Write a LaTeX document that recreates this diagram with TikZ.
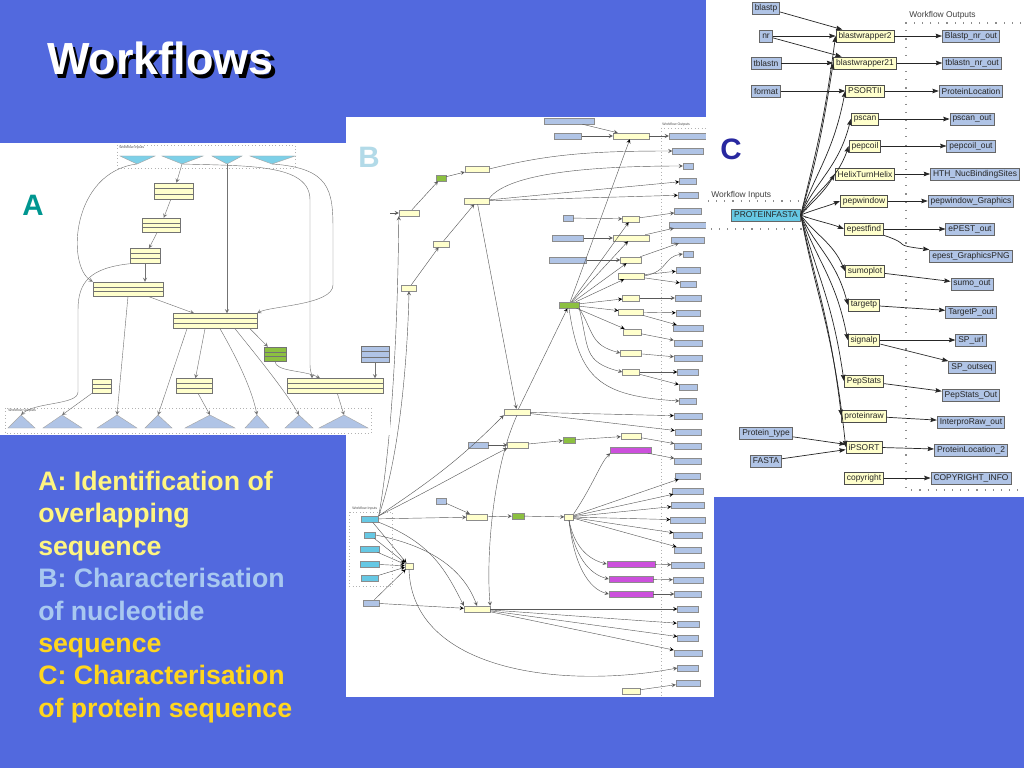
\documentclass[tikz,border=0pt]{standalone}
\usepackage{fontspec}
\setmainfont{Liberation Sans}
\usepackage{tikz}
\usetikzlibrary{calc}
\usetikzlibrary{arrows.meta}
\definecolor{slideblue}{RGB}{82,105,222}
\definecolor{procyellow}{RGB}{255,255,204}
\definecolor{portblue}{RGB}{176,196,230}
\definecolor{inblue}{RGB}{102,200,228}
\definecolor{hubgreen}{RGB}{140,192,64}
\definecolor{webpink}{RGB}{204,80,220}
\definecolor{txtyellow}{RGB}{255,245,128}
\definecolor{txtblue}{RGB}{168,200,240}
\definecolor{txtgold}{RGB}{255,214,30}
\definecolor{labteal}{RGB}{0,150,144}
\definecolor{labsky}{RGB}{178,218,232}
\definecolor{labnavy}{RGB}{40,40,160}
\tikzset{
	titletext/.style={anchor=base west,inner sep=0pt,font=\fontsize{32}{36}\selectfont\bfseries},
	legend/.style={anchor=base west,inner sep=0pt,font=\fontsize{19}{22}\selectfont\bfseries},
	panelletter/.style={anchor=base west,inner sep=0pt,font=\fontsize{21}{24}\selectfont\bfseries},
	tinylabel/.style={anchor=west,inner sep=0pt,font=\fontsize{2.5}{3}\selectfont,text=black!70},
	flowlabel/.style={anchor=west,inner sep=0pt,font=\fontsize{6}{7}\selectfont,text=black!75},
	cgrid/.style={draw=black!45,line width=0.8pt,dash pattern=on 0.8pt off 5pt},
	bgrid/.style={draw=black!30,line width=0.4pt,dash pattern=on 0.4pt off 2pt},
	cproc/.style={rectangle,draw=black!70,fill=procyellow,text=black!85,font=\fontsize{6}{7}\selectfont,minimum height=8.5pt,inner xsep=1.8pt,inner ysep=0pt,line width=0.6pt},
	cport/.style={cproc,fill=portblue,draw=black!60},
	cinput/.style={cport,fill=inblue},
	cedge/.style={-{Stealth[length=4.5pt,width=3.2pt,inset=0.6pt]},draw=black!85,line width=0.5pt},
	bport/.style={rectangle,draw=black!45,fill=portblue,line width=0.3pt,inner sep=0pt,minimum height=6*0.025cm,minimum width=#1*0.025cm},
	bproc/.style={bport=#1,fill=procyellow},
	bhub/.style={bport=#1,fill=hubgreen},
	bweb/.style={bport=#1,fill=webpink},
	binput/.style={bport=#1,fill=inblue},
	bedge/.style={-stealth,draw=black!65,line width=0.3pt},
	asize/.style 2 args={minimum width=#1*0.025cm,minimum height=#2*0.025cm},
	aproc/.style={rectangle,draw=black!55,fill=procyellow,inner sep=0pt,line width=0.3pt,
		path picture={
			\draw[black!55,line width=0.25pt]
			($(path picture bounding box.north west)!0.34!(path picture bounding box.south west)$) --
			($(path picture bounding box.north east)!0.34!(path picture bounding box.south east)$)
			($(path picture bounding box.north west)!0.67!(path picture bounding box.south west)$) --
			($(path picture bounding box.north east)!0.67!(path picture bounding box.south east)$);}},
	aintri/.style={fill=inblue!85,draw=black!35,line width=0.3pt},
	aouttri/.style={fill=portblue,draw=black!35,line width=0.3pt},
	aedge/.style={-stealth,draw=black!55,line width=0.3pt}
}
\begin{document}
\begin{tikzpicture}[x=0.025cm,y=-0.025cm]
	\useasboundingbox (0,0) rectangle (1024,768);
	\fill[slideblue] (0,0) rectangle (1024,768);
	% title with its shadow
	\node[titletext,text=white] (title) at (47,75)
		{\rlap{\kern2.2pt\raisebox{-2.2pt}{\textcolor{black}{Workflows}}}Workflows};
	% legend
	\node[legend,text=txtyellow] (lineone) at (38,490) {A: Identification of};
	\node[legend,text=txtyellow] (linetwo) at (38,522) {overlapping};
	\node[legend,text=txtyellow] (linethree) at (38,555) {sequence};
	\node[legend,text=txtblue] (linefour) at (38,587) {B: Characterisation};
	\node[legend,text=txtblue] (linefive) at (38,620) {of nucleotide};
	\node[legend,text=txtgold] (linesix) at (38,652) {sequence};
	\node[legend,text=txtgold] (lineseven) at (38,684) {C: Characterisation};
	\node[legend,text=txtgold] (lineeight) at (38,717) {of protein sequence};

	% panel B
	\fill[white] (346,117) rectangle (714,697);
	\draw[bgrid] (661,128) -- (712,128);
	\draw[bgrid] (661,128) -- (661,695);
	\draw[bgrid] (349,512) rectangle (392,586);
	\node[tinylabel] (boutlabel) at (662,125) {Workflow Outputs};
	\node[tinylabel] (binlabel) at (352,509) {Workflow Inputs};
	\node[bport=50] (entrez) at (569,121) {};
	\node[bport=27] (estmouse) at (568,136) {};
	\node[bport=10] (est) at (568,218) {};
	\node[bport=31] (entrezmm) at (568,238) {};
	\node[bport=37] (sixframe) at (568,260) {};
	\node[bport=20] (hapsdid) at (478,445) {};
	\node[bport=10] (twothou) at (441,501) {};
	\node[bport=16] (species) at (371,603) {};
	\node[binput=17] (fastasrc) at (370,519) {};
	\node[binput=11] (email) at (370,535) {};
	\node[binput=19] (ncbithi) at (370,549) {};
	\node[binput=19] (descr) at (370,564) {};
	\node[binput=17] (ncbiid) at (370,578) {};
	\node[bproc=36] (bestsimple) at (631,136) {};
	\node[bproc=24] (prometh) at (477,169) {};
	\node[bproc=25] (genefind) at (477,201) {};
	\node[bproc=20] (headergh) at (409,213) {};
	\node[bproc=17] (tramest) at (631,219) {};
	\node[bproc=16] (genscan) at (441,244) {};
	\node[bproc=36] (bnrsimple) at (631,238) {};
	\node[bproc=21] (transeq) at (631,260) {};
	\node[bproc=26] (repmask) at (631,276) {};
	\node[bproc=15] (master) at (409,288) {};
	\node[bproc=17] (blastnnr) at (631,298) {};
	\node[bproc=25] (cpgrep) at (631,312) {};
	\node[bproc=18] (prettyseq) at (632,332) {};
	\node[bproc=21] (restrict) at (631,353) {};
	\node[bproc=17] (sixpack) at (631,372) {};
	\node[bproc=26] (genrun) at (517,412) {};
	\node[bproc=21] (masking) at (518,445) {};
	\node[bproc=20] (signalcon) at (631,436) {};
	\node[bproc=21] (maskingone) at (477,517) {};
	\node[bproc=9] (bsc) at (569,517) {};
	\node[bproc=8] (tool) at (409,566) {};
	\node[bproc=26] (lentiv) at (477,609) {};
	\node[bproc=18] (bcopy) at (631,691) {};
	\node[bhub=10] (tidier) at (441,178) {};
	\node[bhub=20] (fastaund) at (569,305) {};
	\node[bhub=12] (labelone) at (569,440) {};
	\node[bhub=12] (greentwo) at (518,516) {};
	\node[bweb=41] (webzero) at (631,450) {};
	\node[bweb=48] (webone) at (631,564) {};
	\node[bweb=44] (webtwo) at (631,579) {};
	\node[bweb=44] (webthree) at (631,594) {};
	\node[bport=38] (bestout) at (688,136) {};
	\node[bport=31] (promout) at (688,151) {};
	\node[bport=10] (cds) at (688,166) {};
	\node[bport=17] (pepdat) at (688,181) {};
	\node[bport=20] (gsrep) at (688,195) {};
	\node[bport=27] (bestouttwo) at (688,211) {};
	\node[bport=37] (bnrmouse) at (688,225) {};
	\node[bport=33] (kobf) at (688,240) {};
	\node[bport=10] (rtld) at (688,254) {};
	\node[bport=24] (rmmasked) at (688,270) {};
	\node[bport=16] (rmout) at (688,284) {};
	\node[bport=26] (bnrout) at (688,298) {};
	\node[bport=24] (cpgisl) at (688,313) {};
	\node[bport=30] (cpgcomp) at (688,328) {};
	\node[bport=28] (prettytr) at (688,343) {};
	\node[bport=28] (restmap) at (688,358) {};
	\node[bport=21] (prettyorf) at (688,372) {};
	\node[bport=18] (allorf) at (688,387) {};
	\node[bport=17] (laterout) at (688,401) {};
	\node[bport=28] (compgene) at (688,416) {};
	\node[bport=26] (compcds) at (688,432) {};
	\node[bport=27] (sigout) at (688,446) {};
	\node[bport=27] (ttetout) at (688,461) {};
	\node[bport=25] (ttet) at (688,476) {};
	\node[bport=31] (tannot) at (688,491) {};
	\node[bport=33] (ttopo) at (688,505) {};
	\node[bport=35] (tsixt) at (688,520) {};
	\node[bport=29] (tprot) at (688,535) {};
	\node[bport=27] (tmut) at (688,550) {};
	\node[bport=33] (tannout) at (688,565) {};
	\node[bport=30] (tpresout) at (688,580) {};
	\node[bport=27] (tmutout) at (688,594) {};
	\node[bport=21] (tbpdf) at (688,609) {};
	\node[bport=22] (tbblast) at (688,624) {};
	\node[bport=21] (twide) at (688,638) {};
	\node[bport=28] (twpep) at (688,653) {};
	\node[bport=21] (nwres) at (688,668) {};
	\node[bport=24] (copyout) at (688,683) {};
	\coordinate (hfeed) at (390,213);
	\draw[bedge] (entrez) -- (bestsimple);
	\draw[bedge] (estmouse) -- (bestsimple);
	\draw[bedge] (bestsimple) -- (bestout);
	\draw[bedge] (est) -- (tramest);
	\draw[bedge] (entrezmm) -- (bnrsimple);
	\draw[bedge] (sixframe) -- (transeq);
	\draw[bedge] (fastaund) edge (bestsimple) edge (tramest) edge (bnrsimple) edge (transeq)
		edge (repmask) edge (blastnnr) edge (cpgrep) edge (prettyseq);
	\draw[bedge] (fastaund.south east) .. controls +(15,25) and +(-30,-8) .. (restrict.west);
	\draw[bedge] (fastaund.south east) .. controls +(10,40) and +(-40,-10) .. (sixpack.west);
	\draw[bedge] (fastaund.south) .. controls +(10,70) and +(-80,-5) .. (laterout.west);
	\draw[bedge] (tramest) -- (bestouttwo);
	\draw[bedge] (bnrsimple) -- (bnrmouse);
	\draw[bedge] (transeq) -- (kobf);
	\draw[bedge] (repmask.east) .. controls +(25,-5) and +(-20,3) .. (rtld.west);
	\draw[bedge] (repmask) edge (rmmasked) edge (rmout);
	\draw[bedge] (blastnnr) -- (bnrout);
	\draw[bedge] (cpgrep) edge (cpgisl) edge (cpgcomp);
	\draw[bedge] (prettyseq) -- (prettytr);
	\draw[bedge] (restrict) -- (restmap);
	\draw[bedge] (sixpack) edge (prettyorf) edge (allorf);
	\draw[bedge] (hfeed) -- (headergh);
	\draw[bedge] (headergh) -- (tidier);
	\draw[bedge] (tidier) -- (prometh);
	\draw[bedge] (prometh.east) .. controls +(60,-15) and +(-80,0) .. (promout.west);
	\draw[bedge] (master) -- (genscan);
	\draw[bedge] (genscan) -- (genefind);
	\draw[bedge] (genefind.north east) .. controls +(20,-25) and +(-90,0) .. (cds.west);
	\draw[bedge] (genefind) edge (pepdat) edge (gsrep);
	\draw[bedge] (genefind) -- (genrun);
	\draw[bedge] (genrun) edge (fastaund) edge (compgene) edge (compcds);
	\draw[bedge] (hapsdid) -- (masking);
	\draw[bedge] (masking) -- (labelone);
	\draw[bedge] (labelone) -- (signalcon);
	\draw[bedge] (signalcon) -- (sigout);
	\draw[bedge] (fastasrc.north east) .. controls (394,430) and (398,300) .. (headergh.south west);
	\draw[bedge] (fastasrc.north east) .. controls (402,450) and (408,340) .. (master.south);
	\draw[bedge] (fastasrc.north east) .. controls +(60,-40) and +(-40,40) .. (genrun.south west);
	\draw[bedge] (fastasrc.north east) .. controls +(60,-30) and +(-30,15) .. (masking.south west);
	\draw[bedge] (fastasrc) -- (maskingone);
	\draw[bedge] (fastasrc.south east) .. controls +(50,20) and +(-20,-40) .. (lentiv.north west);
	\draw[bedge] (email.east) .. controls +(50,10) and +(-15,-40) .. (lentiv.north);
	\draw[bedge] (genrun.south) .. controls (492,470) and (486,560) .. (lentiv.north east);
	\draw[bedge] (twothou) -- (maskingone);
	\draw[bedge] (maskingone) -- (greentwo);
	\draw[bedge] (greentwo) -- (bsc);
	\draw[bedge] (bsc) edge (ttet) edge (tannot) edge (ttopo) edge (tsixt) edge (tprot) edge (tmut);
	\draw[bedge] (bsc.north east) .. controls +(20,-30) and +(-10,10) .. (webzero.south west);
	\draw[bedge] (bsc.south) .. controls +(5,25) and +(-20,-5) .. (webone.west);
	\draw[bedge] (bsc.south) .. controls +(5,35) and +(-20,-5) .. (webtwo.west);
	\draw[bedge] (bsc.south) .. controls +(5,45) and +(-20,-5) .. (webthree.west);
	\draw[bedge] (webzero) -- (ttetout);
	\draw[bedge] (webone) -- (tannout);
	\draw[bedge] (webtwo) -- (tpresout);
	\draw[bedge] (webthree) -- (tmutout);
	\draw[bedge] (fastasrc) edge (tool);
	\draw[bedge] (email) edge (tool);
	\draw[bedge] (ncbithi) edge (tool);
	\draw[bedge] (descr) edge (tool);
	\draw[bedge] (ncbiid) edge (tool);
	\draw[bedge] (species) edge (tool) edge (lentiv);
	\draw[bedge] (tool.south) .. controls (412,670) and (560,690) .. (nwres.west);
	\draw[bedge] (lentiv) edge (tbpdf) edge (tbblast) edge (twide) edge (twpep);
	\draw[bedge] (bcopy) -- (copyout);

	% panel A
	\fill[white] (0,143) rectangle (390,435);
	\draw[bgrid] (117,145) rectangle (295,168);
	\draw[bgrid] (5,408) rectangle (371,433);
	\node[tinylabel] (ainlabel) at (119,148) {Workflow Inputs};
	\node[tinylabel] (aoutlabel) at (8,411) {Workflow Outputs};
	\path[aintri] (120,156) -- (155,156) -- (137,164) -- cycle;
	\path[aintri] (162,156) -- (203,156) -- (182,164) -- cycle;
	\path[aintri] (212,156) -- (242,156) -- (227,164) -- cycle;
	\path[aintri] (250,156) -- (295,156) -- (272,164) -- cycle;
	\coordinate (aione) at (137,164);
	\coordinate (aitwo) at (182,164);
	\coordinate (aithree) at (227,164);
	\coordinate (aifour) at (272,164);
	\path[aouttri] (8,428) -- (35,428) -- (21,415) -- cycle;
	\path[aouttri] (43,428) -- (82,428) -- (62,415) -- cycle;
	\path[aouttri] (97,428) -- (137,428) -- (117,415) -- cycle;
	\path[aouttri] (145,428) -- (172,428) -- (158,415) -- cycle;
	\path[aouttri] (185,428) -- (235,428) -- (210,415) -- cycle;
	\path[aouttri] (245,428) -- (269,428) -- (257,415) -- cycle;
	\path[aouttri] (285,428) -- (313,428) -- (299,415) -- cycle;
	\path[aouttri] (319,428) -- (368,428) -- (344,415) -- cycle;
	\coordinate (aoone) at (21,415);
	\coordinate (aotwo) at (62,415);
	\coordinate (aothree) at (117,415);
	\coordinate (aofour) at (158,415);
	\coordinate (aofive) at (210,415);
	\coordinate (aosix) at (257,415);
	\coordinate (aoseven) at (299,415);
	\coordinate (aoeight) at (344,415);
	\node[aproc,asize={39}{16}] (aone) at (174,191) {};
	\node[aproc,asize={38}{14}] (atwo) at (161,225) {};
	\node[aproc,asize={30}{15}] (athree) at (145,256) {};
	\node[aproc,asize={70}{14}] (afour) at (128,289) {};
	\node[aproc,asize={84}{15}] (afive) at (215,321) {};
	\node[aproc,asize={22}{14},fill=hubgreen] (agreen) at (275,354) {};
	\node[aproc,asize={36}{15}] (asix) at (194,386) {};
	\node[aproc,asize={19}{14}] (acopy) at (102,386) {};
	\node[aproc,asize={96}{15}] (aseven) at (335,386) {};
	\node[aproc,asize={28}{16},fill=portblue] (adirect) at (375,354) {};
	\draw[aedge] (aione) .. controls (72,172) and (66,265) .. (afour.north west);
	\draw[aedge] (aitwo) -- (aone);
	\draw[aedge] (aone) -- (atwo);
	\draw[aedge] (atwo) -- (athree);
	\draw[aedge] (athree) -- (afour.north -| athree.south);
	\draw[aedge] (athree.south west) .. controls (90,268) and (78,282) .. (78,310) -- (78,392)
		.. controls (78,405) and (35,402) .. (aoone);
	\draw[aedge] (aitwo) .. controls (250,166) and (310,164) .. (310,200) -- (310,365)
		.. controls (310,372) and (312,374) .. ([xshift=-23*0.025cm]aseven.north);
	\draw[aedge] (aithree) -- (afive.north -| aithree);
	\draw[aedge] (aifour) .. controls (330,168) and (333,190) .. (333,230) -- (333,285)
		.. controls (333,305) and (270,306) .. (afive.north east);
	\draw[aedge] (afour) -- (afive);
	\draw[aedge] (afour.south) -- (aothree);
	\draw[aedge] ([xshift=-28*0.025cm]afive.south) -- (aofour);
	\draw[aedge] ([xshift=-10*0.025cm]afive.south) -- (asix);
	\draw[aedge] ([xshift=5*0.025cm]afive.south) .. controls (238,360) and (252,390) .. (aosix);
	\draw[aedge] ([xshift=20*0.025cm]afive.south) .. controls (252,350) and (285,390) .. (aoseven);
	\draw[aedge] ([xshift=35*0.025cm]afive.south) -- (agreen);
	\draw[aedge] (agreen.south) .. controls (275,372) and (305,370) .. ([xshift=-15*0.025cm]aseven.north);
	\draw[aedge] (asix) -- (aofive);
	\draw[aedge] (acopy) -- (aotwo);
	\draw[aedge] (adirect) -- (adirect |- aseven.north);
	\draw[aedge] (aseven) -- (aoeight);
	\node[panelletter,text=labteal] (lettera) at (22,215) {A};
	\node[panelletter,text=labsky] (letterb) at (358,168) {B};

	% panel C
	\fill[white] (706,0) rectangle (1024,497);
	\draw[cgrid] (1021,23) -- (906,23) -- (906,490) -- (1021,490);
	\draw[cgrid] (708,201) -- (806,201) -- (806,229) -- (708,229);
	\node[flowlabel] (coutlabel) at (909,15) {Workflow Outputs};
	\node[flowlabel] (cinlabel) at (711,195) {Workflow Inputs};
	\node[cport] (blastp) at (766,8) {blastp};
	\node[cport] (nr) at (766,36) {nr};
	\node[cport] (tblastn) at (766,63) {tblastn};
	\node[cport] (format) at (766,91) {format};
	\node[cinput] (pfasta) at (766,215) {PROTEINFASTA};
	\node[cport] (ptype) at (766,433) {Protein\_type};
	\node[cport] (fasta) at (766,461) {FASTA};
	\node[cproc] (bwtwo) at (865,36) {blastwrapper2};
	\node[cproc] (bwtwoone) at (865,63) {blastwrapper21};
	\node[cproc] (psortii) at (865,91) {PSORTII};
	\node[cproc] (pscan) at (865,119) {pscan};
	\node[cproc] (pepcoil) at (865,146) {pepcoil};
	\node[cproc] (hth) at (865,174) {HelixTurnHelix};
	\node[cproc] (pepwindow) at (864,201) {pepwindow};
	\node[cproc] (epestfind) at (864,229) {epestfind};
	\node[cproc] (sumoplot) at (865,271) {sumoplot};
	\node[cproc] (targetp) at (864,305) {targetp};
	\node[cproc] (signalp) at (864,340) {signalp};
	\node[cproc] (pepstats) at (864,381) {PepStats};
	\node[cproc] (proteinraw) at (864,416) {proteinraw};
	\node[cproc] (ipsort) at (864,447) {iPSORT};
	\node[cproc] (copyright) at (864,478) {copyright};
	\node[cport] (oblastp) at (971,36) {Blastp\_nr\_out};
	\node[cport] (otblastn) at (972,63) {tblastn\_nr\_out};
	\node[cport] (oploc) at (971,91) {ProteinLocation};
	\node[cport] (opscan) at (972,119) {pscan\_out};
	\node[cport] (opepcoil) at (971,146) {pepcoil\_out};
	\node[cport] (ohth) at (975,174) {HTH\_NucBindingSites};
	\node[cport] (opepwin) at (971,201) {pepwindow\_Graphics};
	\node[cport] (oepest) at (970,229) {ePEST\_out};
	\node[cport] (oepestpng) at (971,256) {epest\_GraphicsPNG};
	\node[cport] (osumo) at (972,284) {sumo\_out};
	\node[cport] (otargetp) at (971,312) {TargetP\_out};
	\node[cport] (ospurl) at (971,340) {SP\_url};
	\node[cport] (ospseq) at (972,367) {SP\_outseq};
	\node[cport] (opepstats) at (971,395) {PepStats\_Out};
	\node[cport] (ointerpro) at (971,422) {InterproRaw\_out};
	\node[cport] (oploctwo) at (971,450) {ProteinLocation\_2};
	\node[cport] (ocopy) at (971,478) {COPYRIGHT\_INFO};
	\draw[cedge] (blastp) -- (bwtwo);
	\draw[cedge] (nr) -- (bwtwo);
	\draw[cedge] (nr) -- (bwtwoone);
	\draw[cedge] (tblastn) -- (bwtwoone);
	\draw[cedge] (format) -- (psortii);
	\draw[cedge] (ptype) -- (ipsort);
	\draw[cedge] (fasta) -- (ipsort);
	\draw[cedge] (pfasta.east) .. controls +(15,-63) and +(-12,90) .. (bwtwo.west);
	\draw[cedge] (pfasta.east) .. controls +(15,-53) and +(-12,76) .. (bwtwoone.west);
	\draw[cedge] (pfasta.east) .. controls +(15,-43) and +(-12,62) .. (psortii.west);
	\draw[cedge] (pfasta.east) .. controls +(15,-34) and +(-12,48) .. (pscan.west);
	\draw[cedge] (pfasta.east) .. controls +(15,-24) and +(-12,35) .. (pepcoil.west);
	\draw[cedge] (pfasta.east) .. controls +(12,-14) and +(-12,20) .. (hth.west);
	\draw[cedge] (pfasta.east) .. controls +(12,-5) and +(-12,5) .. (pepwindow.west);
	\draw[cedge] (pfasta.east) .. controls +(12,5) and +(-12,-5) .. (epestfind.west);
	\draw[cedge] (pfasta.east) .. controls +(15,20) and +(-12,-28) .. (sumoplot.west);
	\draw[cedge] (pfasta.east) .. controls +(15,32) and +(-12,-45) .. (targetp.west);
	\draw[cedge] (pfasta.east) .. controls +(15,44) and +(-12,-62) .. (signalp.west);
	\draw[cedge] (pfasta.east) .. controls +(15,58) and +(-12,-83) .. (pepstats.west);
	\draw[cedge] (pfasta.east) .. controls +(15,70) and +(-12,-100) .. (proteinraw.west);
	\draw[cedge] (pfasta.east) .. controls +(15,81) and +(-12,-116) .. (ipsort.west);
	\draw[cedge] (bwtwo) -- (oblastp);
	\draw[cedge] (bwtwoone) -- (otblastn);
	\draw[cedge] (psortii) -- (oploc);
	\draw[cedge] (pscan) -- (opscan);
	\draw[cedge] (pepcoil) -- (opepcoil);
	\draw[cedge] (hth) -- (ohth);
	\draw[cedge] (pepwindow) -- (opepwin);
	\draw[cedge] (epestfind) -- (oepest);
	\draw[cedge] (epestfind.south east) .. controls +(30,10) and +(-40,-5) .. (oepestpng.north west);
	\draw[cedge] (sumoplot) -- (osumo);
	\draw[cedge] (targetp) -- (otargetp);
	\draw[cedge] (signalp) -- (ospurl);
	\draw[cedge] (signalp) -- (ospseq);
	\draw[cedge] (pepstats) -- (opepstats);
	\draw[cedge] (proteinraw) -- (ointerpro);
	\draw[cedge] (ipsort) -- (oploctwo);
	\draw[cedge] (copyright) -- (ocopy);
	\node[panelletter,text=labnavy] (letterc) at (720,159) {C};
\end{tikzpicture}
\end{document}
